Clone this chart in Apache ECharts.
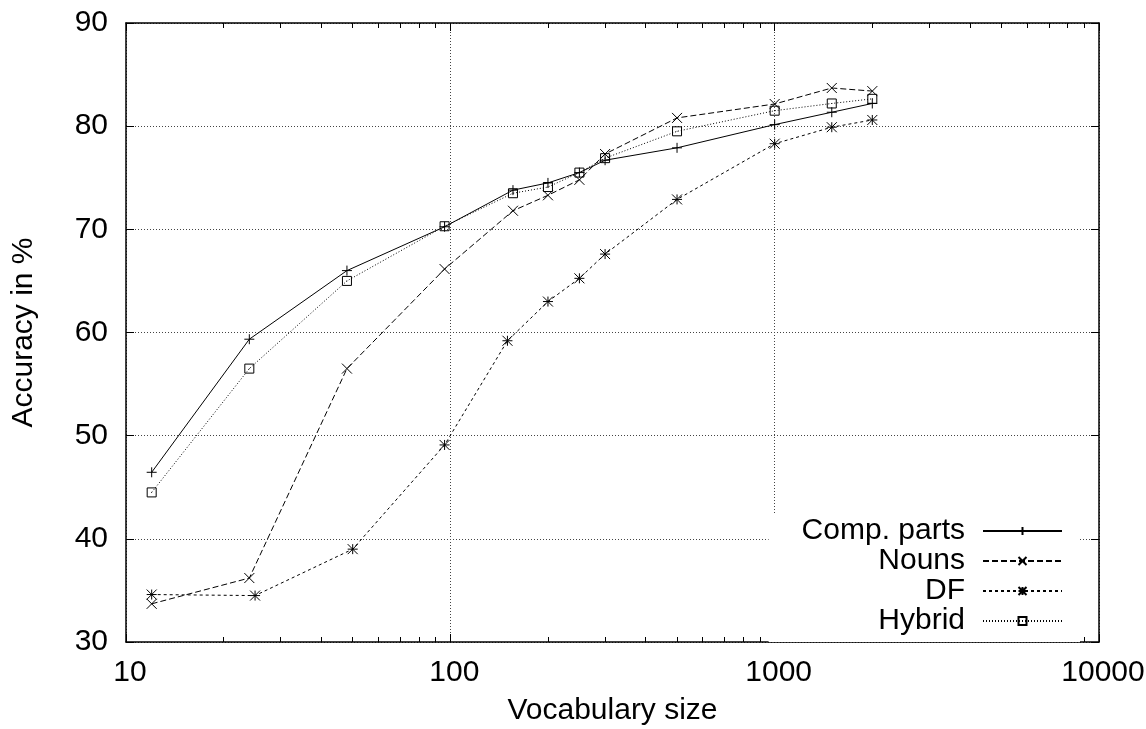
<!DOCTYPE html>
<html>
<head>
<meta charset="utf-8">
<script src="https://cdn.jsdelivr.net/npm/echarts@6/dist/echarts.min.js"></script>
<style>
html,body{margin:0;padding:0;background:#fff;}
#c{width:1146px;height:729px;}
</style>
</head>
<body>
<div id="c"></div>
<script>
// ---- data ----
const seriesNames = ['Comp. parts', 'Nouns', 'DF', 'Hybrid'];
const sizes   = [12, 24, 48, 96, 156, 200, 250, 300, 500, 1000, 1500, 2000];
const dfSizes = [12, 25, 50, 96, 150, 200, 250, 300, 500, 1000, 1500, 2000];
const compParts = [46.45, 59.35, 66.0, 70.25, 73.8, 74.5, 75.5, 76.7, 77.9, 80.15, 81.35, 82.2];
const nouns     = [33.7, 36.2, 56.5, 66.15, 71.8, 73.3, 74.8, 77.3, 80.8, 82.15, 83.7, 83.4];
const df        = [34.6, 34.5, 39.0, 49.1, 59.2, 63.0, 65.25, 67.6, 72.9, 78.3, 79.9, 80.6];
const hybrid    = [44.5, 56.5, 65.0, 70.3, 73.5, 74.1, 75.5, 76.9, 79.5, 81.5, 82.2, 82.65];
const xMajorTicks = [10, 100, 1000, 10000];
const xMinorTicks = [20,30,40,50,60,70,80,90,200,300,400,500,600,700,800,900,2000,3000,4000,5000,6000,7000,8000,9000];
const yTicks = [30, 40, 50, 60, 70, 80, 90];

// ---- styling ----
const FONT = 'Liberation Sans, Arial, Helvetica, sans-serif';
const FS = 30;
const gridRect = {left: 126, right: 47, top: 23, bottom: 87, outerBoundsMode: 'none', containLabel: false};
const markers = {
  plus: 'path://M0,5L10,5M5,0L5,10',
  cross: 'path://M0,0L10,10M10,0L0,10',
  star: 'path://M0,0L10,10M10,0L0,10M5,0L5,10M0,5L10,5',
  box: 'path://M0,0L10,0L10,10L0,10ZM4.6,5L5.4,5'
};
function pairs(xs, ys) { return xs.map((x, i) => [x, ys[i]]); }
function mkSeries(name, data, symbol, size, dash) {
  return {
    name: name, type: 'line', xAxisIndex: 0, yAxisIndex: 0,
    data: data, symbol: symbol, symbolSize: size,
    showSymbol: true, animation: false,
    lineStyle: {color: '#000', width: 1, type: dash},
    itemStyle: {color: 'none', borderColor: '#000', borderWidth: 1},
    emphasis: {disabled: true}
  };
}
// minor ticks of the log axis, placed on a helper axis in log10 space
const minorLog = xMinorTicks.map(v => Math.log10(v));
function minorAxis(pos) {
  return {
    type: 'value', min: Math.log10(xMajorTicks[0]), max: Math.log10(xMajorTicks[xMajorTicks.length - 1]),
    gridIndex: 1, position: pos,
    axisLine: {show: true, onZero: false, lineStyle: {color: 'rgba(0,0,0,0)'}},
    axisTick: {show: true, inside: true, length: 5, lineStyle: {color: '#000', width: 1},
               customValues: minorLog},
    axisLabel: {show: true, customValues: minorLog, formatter: function () { return ''; }},
    splitLine: {show: false}
  };
}

const chart = echarts.init(document.getElementById('c'), null, {renderer: 'canvas'});
const gridLine = {show: true, lineStyle: {color: '#444', width: 1, type: [1, 2]}};
const option = {
  backgroundColor: '#fff',
  animation: false,
  textStyle: {fontFamily: FONT, color: '#000'},
  grid: [
    Object.assign({show: false}, gridRect),
    Object.assign({show: false}, gridRect)
  ],
  xAxis: [
    { // bottom major (log)
      type: 'log', logBase: 10, min: xMajorTicks[0], max: xMajorTicks[xMajorTicks.length - 1],
      gridIndex: 0, position: 'bottom',
      name: 'Vocabulary size', nameLocation: 'middle', nameGap: 54,
      nameTextStyle: {fontFamily: FONT, fontSize: FS, color: '#000'},
      axisLine: {show: true, onZero: false, lineStyle: {color: '#000', width: 1.5}},
      axisTick: {show: true, inside: true, length: 8, lineStyle: {color: '#000', width: 1}},
      axisLabel: {fontFamily: FONT, fontSize: FS, color: '#000', margin: 16, padding: [0, 0, 0, 8],
                  formatter: function (v) { return String(Math.round(v)); }},
      splitLine: gridLine
    },
    { // top major (mirror)
      type: 'log', logBase: 10, min: xMajorTicks[0], max: xMajorTicks[xMajorTicks.length - 1],
      gridIndex: 0, position: 'top',
      axisLine: {show: true, onZero: false, lineStyle: {color: '#000', width: 1.5}},
      axisTick: {show: true, inside: true, length: 8, lineStyle: {color: '#000', width: 1}},
      axisLabel: {show: false}, splitLine: {show: false}
    },
    minorAxis('bottom'),
    minorAxis('top')
  ],
  yAxis: [
    {
      type: 'value', min: yTicks[0], max: yTicks[yTicks.length - 1], interval: 10,
      gridIndex: 0, position: 'left',
      name: 'Accuracy in %', nameLocation: 'middle', nameGap: 87, nameRotate: 90,
      nameTextStyle: {fontFamily: FONT, fontSize: FS, color: '#000'},
      axisLine: {show: true, onZero: false, lineStyle: {color: '#000', width: 1.5}},
      axisTick: {show: true, inside: true, length: 8, lineStyle: {color: '#000', width: 1}},
      axisLabel: {fontFamily: FONT, fontSize: FS, color: '#000', margin: 18},
      splitLine: gridLine
    },
    {
      type: 'value', min: yTicks[0], max: yTicks[yTicks.length - 1], interval: 10,
      gridIndex: 0, position: 'right',
      axisLine: {show: true, onZero: false, lineStyle: {color: '#000', width: 1.5}},
      axisTick: {show: true, inside: true, length: 8, lineStyle: {color: '#000', width: 1}},
      axisLabel: {show: false}, splitLine: {show: false}
    },
    {
      type: 'value', min: 0, max: 1, gridIndex: 1,
      axisLine: {show: false}, axisTick: {show: false}, axisLabel: {show: false}, splitLine: {show: false}
    }
  ],
  legend: {
    orient: 'vertical', align: 'right',
    right: 66, top: 513,
    padding: [3, 17, 6, 33],
    backgroundColor: '#fff',
    itemWidth: 79, itemHeight: 10, itemGap: 0,
    selectedMode: false,
    data: seriesNames,
    textStyle: {fontFamily: FONT, fontSize: FS, color: '#000', lineHeight: 29.5, padding: [0, 13, 0, 0]}
  },
  series: [
    mkSeries(seriesNames[0], pairs(sizes, compParts), markers.plus, 10, 'solid'),
    mkSeries(seriesNames[1], pairs(sizes, nouns), markers.cross, 10, [6, 3]),
    mkSeries(seriesNames[2], pairs(dfSizes, df), markers.star, 10, [3, 3]),
    mkSeries(seriesNames[3], pairs(sizes, hybrid), markers.box, 9, [1, 2]),
    {
      type: 'line', xAxisIndex: 2, yAxisIndex: 2, data: [], silent: true
    }
  ]
};
chart.setOption(option);
</script>
</body>
</html>
